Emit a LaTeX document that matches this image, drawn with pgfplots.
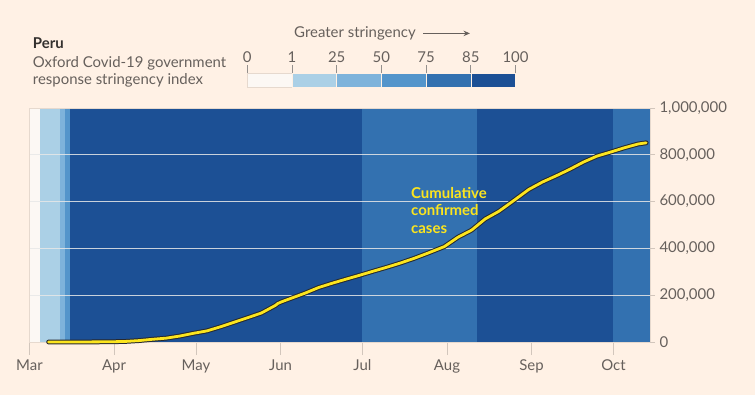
\documentclass[border=0pt]{standalone}
\usepackage{pgfplots}
\pgfplotsset{compat=1.18}
\usepackage{fontspec}
\setmainfont{Lato}
\usetikzlibrary{arrows.meta}
\definecolor{bg}{HTML}{FFF1E5}
\definecolor{txt}{HTML}{66605C}
\definecolor{dark}{HTML}{33302E}
\definecolor{frame}{HTML}{E6D9CE}
\definecolor{tickc}{HTML}{D2C6BC}
\definecolor{s0}{HTML}{FCF8F4}
\definecolor{s1}{HTML}{ABD0E6}
\definecolor{s2}{HTML}{7EB3DB}
\definecolor{s3}{HTML}{5495CB}
\definecolor{s4}{HTML}{3371B0}
\definecolor{s5}{HTML}{1C5095}
\definecolor{cy}{HTML}{FCE51E}
\definecolor{cout}{HTML}{26282E}
\definecolor{ann}{HTML}{FCE51E}

\pgfplotstableread{
day cases
7 6
10 11
14 71
19 234
24 480
30 1065
35 2281
40 5897
45 11475
50 16325
55 25331
60 36976
65 47372
70 65015
75 84495
80 104020
85 123979
90 155671
91 164476
92 170039
96 187400
101 208823
106 232992
111 251338
116 268602
121 285213
126 302718
131 319646
136 337724
141 357681
146 379884
152 407492
157 447624
162 478024
167 525803
172 558420
177 600438
183 652037
188 683702
193 710067
198 738020
203 768895
208 794584
213 811768
218 829999
223 846088
226 851171
}\casestable

\begin{document}
\begin{tikzpicture}
\fill[bg] (0bp,0bp) rectangle (755bp,395bp);

% header text
\node[anchor=base west, inner sep=0, font=\fontsize{15}{17}\selectfont\bfseries, text=dark] at (32.7bp,346.8bp) {Peru};
\node[anchor=base west, inner sep=0, font=\fontsize{15}{17}\selectfont, text=txt] at (32.7bp,327.5bp) {Oxford Covid-19 government};
\node[anchor=base west, inner sep=0, font=\fontsize{15}{17}\selectfont, text=txt] at (32.7bp,310.6bp) {response stringency index};
\node[anchor=west, inner sep=0, font=\fontsize{15}{17}\selectfont, text=txt] at (294bp,361.6bp) {Greater stringency};
\draw[txt, line width=1bp, -{Stealth[length=6.5bp,width=5.5bp]}] (423bp,361.6bp) -- (470bp,361.6bp);

% legend colour scale
\begin{axis}[at={(247.3bp,307.2bp)}, anchor=south west, width=268.2bp, height=14.5bp, scale only axis,
  xmin=0, xmax=6, ymin=0, ymax=1, hide y axis,
  axis x line*=top, axis line style={draw=none},
  xtick={0,1,2,3,4,5,6}, xticklabels={0,1,25,50,75,85,100},
  tick align=outside, major tick length=8bp,
  xtick style={draw=txt!70, line width=0.8bp},
  xticklabel style={font=\fontsize{15}{17}\selectfont, text=txt, yshift=-1bp},
  clip=false]
\addplot[fill=s0, draw=frame, line width=0.8bp] coordinates {(0,1) (1,1)} \closedcycle;
\addplot[fill=s1, draw=bg, line width=0.6bp] coordinates {(1,1) (2,1)} \closedcycle;
\addplot[fill=s2, draw=bg, line width=0.6bp] coordinates {(2,1) (3,1)} \closedcycle;
\addplot[fill=s3, draw=bg, line width=0.6bp] coordinates {(3,1) (4,1)} \closedcycle;
\addplot[fill=s4, draw=bg, line width=0.6bp] coordinates {(4,1) (5,1)} \closedcycle;
\addplot[fill=s5, draw=bg, line width=0.6bp] coordinates {(5,1) (6,1)} \closedcycle;
\end{axis}

% main axis: bands, grid, x ticks
\begin{axis}[at={(29.5bp,53bp)}, anchor=south west, width=620.5bp, height=234bp, scale only axis,
  xmin=0, xmax=227.4, ymin=0, ymax=1000000,
  axis on top,
  axis line style={draw=frame, line width=0.8bp},
  xtick={0,31,61,92,122,153,184,214},
  xticklabels={Mar,Apr,May,Jun,Jul,Aug,Sep,Oct},
  xtick pos=bottom,
  tick align=outside, major tick length=13bp,
  xtick style={draw=tickc, line width=0.8bp},
  ytick={0,200000,400000,600000,800000,1000000},
  scaled y ticks=false,
  yticklabels={}, ytick style={draw=none},
  xticklabel style={font=\fontsize{15}{17}\selectfont, text=txt, yshift=-1bp},
  ymajorgrids, grid style={draw=white!82!gray, opacity=0.85, line width=0.9bp}]
\addplot[fill=s0, draw=none] coordinates {(0,1000000) (4,1000000)} \closedcycle;
\addplot[fill=s1, draw=none] coordinates {(4,1000000) (11,1000000)} \closedcycle;
\addplot[fill=s2, draw=none] coordinates {(11,1000000) (13,1000000)} \closedcycle;
\addplot[fill=s3, draw=none] coordinates {(13,1000000) (15,1000000)} \closedcycle;
\addplot[fill=s5, draw=none] coordinates {(15,1000000) (122,1000000)} \closedcycle;
\addplot[fill=s4, draw=none] coordinates {(122,1000000) (164,1000000)} \closedcycle;
\addplot[fill=s5, draw=none] coordinates {(164,1000000) (214,1000000)} \closedcycle;
\addplot[fill=s4, draw=none] coordinates {(214,1000000) (227.4,1000000)} \closedcycle;
\end{axis}

% overlay axis: curve, annotation, right y axis
\begin{axis}[at={(29.5bp,53bp)}, anchor=south west, width=620.5bp, height=234bp, scale only axis,
  xmin=0, xmax=227.4, ymin=0, ymax=1000000, hide x axis, clip=false,
  axis y line*=right, axis line style={draw=none},
  ytick={0,200000,400000,600000,800000,1000000},
  tick align=outside, major tick length=5bp,
  ytick style={draw=tickc, line width=0.8bp},
  scaled y ticks=false,
  /pgf/number format/.cd, fixed, 1000 sep={,}, assume math mode=true, /pgfplots/.cd,
  yticklabel style={font=\fontsize{15}{17}\selectfont, text=txt, xshift=1bp}]
\addplot[cout, line width=4.8bp, line cap=round, line join=round] table[x=day,y=cases] {\casestable};
\addplot[cy, line width=2.8bp, line cap=round, line join=round] table[x=day,y=cases] {\casestable};
\node[anchor=west, align=left, inner sep=0, text=ann, font=\fontsize{15}{17.7}\selectfont\bfseries] at (axis cs:139.8,563000) {Cumulative\\confirmed\\cases};
\end{axis}
\end{tikzpicture}
\end{document}
